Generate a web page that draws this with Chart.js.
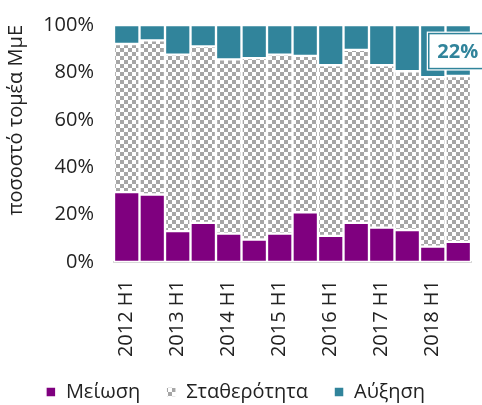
<!DOCTYPE html>
<html><head><meta charset="utf-8">
<script src="https://cdn.jsdelivr.net/npm/chart.js@4/dist/chart.umd.min.js"></script>
<style>html,body{margin:0;padding:0;background:#fff;}#wrap{width:482px;height:405px;}</style>
</head><body><div id="wrap"><canvas id="c" width="482" height="405"></canvas></div>
<script>
const categories = ['2012 H1','2012 H2','2013 H1','2013 H2','2014 H1','2014 H2','2015 H1','2015 H2','2016 H1','2016 H2','2017 H1','2017 H2','2018 H1','2018 H2'];
const meiosi = [29.5, 28.5, 13, 16.5, 12, 9.5, 12, 21, 11, 16.5, 14.5, 13.5, 6.5, 8.5];
const statherotita = [62.5, 65, 74.5, 74.5, 73.5, 76.5, 75.5, 66, 72, 73, 68.5, 67, 71.5, 70];
const afxisi = [8, 6.5, 12.5, 9, 14.5, 14, 12.5, 13, 17, 10.5, 17, 19.5, 22, 21.5];
const yTicks = [0, 20, 40, 60, 80, 100];
const seriesNames = ['Μείωση', 'Σταθερότητα', 'Αύξηση'];
const calloutIndex = 12;

const FONT = "'Open Sans', sans-serif";
const PURPLE = '#7f007f', TEAL = '#31849b';

function makePattern(){
  const t = document.createElement('canvas'); t.width = 8; t.height = 8;
  const g = t.getContext('2d');
  g.fillStyle = '#ffffff'; g.fillRect(0,0,8,8);
  g.fillStyle = '#a6a6a6'; g.fillRect(0,0,4,4); g.fillRect(4,4,4,4);
  return document.getElementById('c').getContext('2d').createPattern(t,'repeat');
}
const pattern = makePattern();

const callout = {
  id: 'callout',
  afterDatasetsDraw(chart){
    const el = chart.getDatasetMeta(2).data[calloutIndex];
    if(!el) return;
    const ctx = chart.ctx;
    const cy = (el.y + el.base) / 2;
    const left = el.x - 4, top = cy - 17.5, w = 64, h = 35;
    ctx.save();
    ctx.fillStyle = '#fff';
    ctx.fillRect(left - 2, top - 2, w + 4, h + 4);
    ctx.strokeStyle = TEAL; ctx.lineWidth = 1.5;
    ctx.strokeRect(left, top, w, h);
    ctx.fillStyle = TEAL;
    ctx.font = "bold 20px " + FONT;
    ctx.textAlign = 'center'; ctx.textBaseline = 'middle';
    ctx.fillText(Math.round(afxisi[calloutIndex]) + '%', left + 29, cy + 1);
    ctx.restore();
  }
};

new Chart(document.getElementById('c'), {
  type: 'bar',
  data: {
    labels: categories,
    datasets: [
      { label: seriesNames[0], data: meiosi, backgroundColor: PURPLE },
      { label: seriesNames[1], data: statherotita, backgroundColor: pattern },
      { label: seriesNames[2], data: afxisi, backgroundColor: TEAL }
    ]
  },
  options: {
    responsive: false,
    animation: false,
    devicePixelRatio: 1,
    datasets: { bar: { categoryPercentage: 1, barPercentage: 1, borderWidth: 1.5, borderColor: '#ffffff', borderSkipped: false } },
    layout: { padding: { top: 25, right: 11, left: 0, bottom: -7 } },
    plugins: {
      legend: {
        position: 'bottom',
        labels: { boxWidth: 10, boxHeight: 10, padding: 26, color: '#222', font: { family: FONT, size: 20 } }
      },
      tooltip: { enabled: false },
      title: { display: false }
    },
    scales: {
      x: {
        stacked: true,
        grid: { display: false, drawTicks: false },
        border: { display: true, color: '#d9d9d9', width: 2 },
        ticks: {
          autoSkip: false, maxRotation: 90, minRotation: 90, padding: 18,
          color: '#222', font: { family: FONT, size: 20 },
          callback: function(v, i){ const l = categories[i]; return l.endsWith('H1') ? l : ''; }
        },
        afterFit(s){ s.height = 94; s.paddingLeft = 0; s.paddingRight = 0; }
      },
      y: {
        stacked: true, min: 0, max: 100,
        grid: { display: false, drawTicks: false },
        border: { display: false },
        afterBuildTicks(s){ s.ticks = yTicks.map(v => ({ value: v })); },
        ticks: { padding: 20, color: '#222', font: { family: FONT, size: 20 }, callback: v => v + '%' },
        title: { display: true, text: 'ποσοστό τομέα ΜμΕ', align: 'end', color: '#222', font: { family: FONT, size: 20 }, padding: { top: 4, bottom: 0 } },
        afterFit(s){ s.width = 114; s.paddingTop = 0; s.paddingBottom = 0; }
      }
    }
  },
  plugins: [callout]
});
</script></body></html>
